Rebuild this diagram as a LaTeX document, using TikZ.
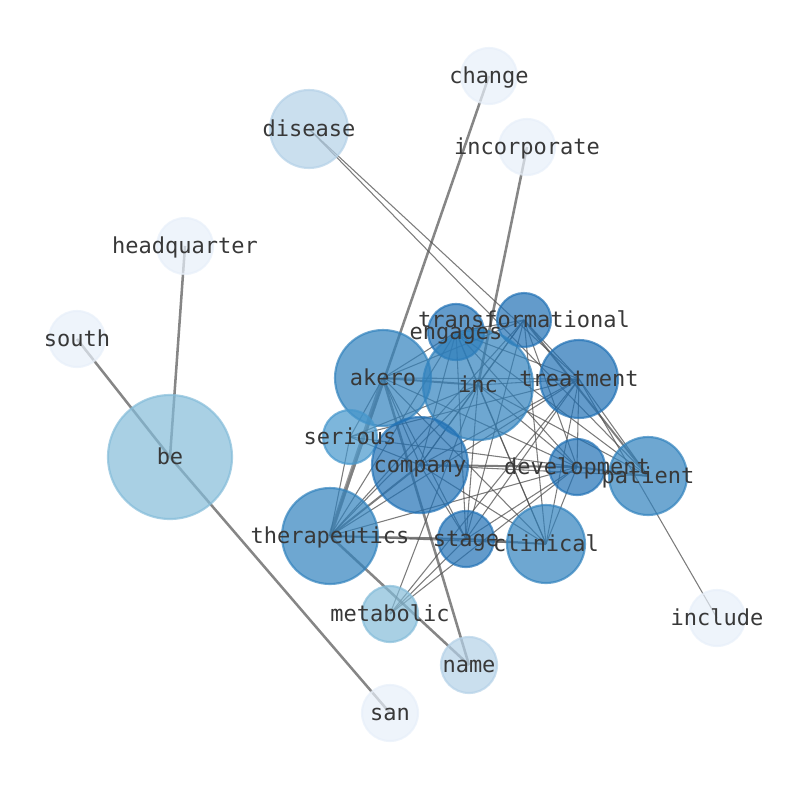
\documentclass[tikz,border=0pt]{standalone}
\usepackage{fontspec}
\newfontfamily\wordfont{DejaVu Sans Mono}
\pgfdeclarelayer{background}
\pgfdeclarelayer{foreground}
\pgfsetlayers{background,main,foreground}

\definecolor{blA}{RGB}{231,239,249}
\definecolor{blB}{RGB}{180,209,231}
\definecolor{blC}{RGB}{132,188,217}
\definecolor{blD}{RGB}{70,151,204}
\definecolor{blE}{RGB}{49,130,189}
\definecolor{blF}{RGB}{33,113,181}
\definecolor{edgegray}{RGB}{80,80,80}

\begin{document}
\begin{tikzpicture}[
			x=0.75pt, y=-0.75pt,
			blob/.style={circle, inner sep=0pt, line width=1.6pt,
			fill opacity=0.7, draw opacity=0.7},
			word/.style={font=\wordfont\fontsize{16.5}{18}\selectfont,
			text=black!78, inner sep=0pt, text height=0.72em, text depth=0.18em,
			yshift=-3pt},
			link/.style={draw=edgegray, line width=0.8pt, opacity=0.75},
			midlink/.style={link, line width=1.5pt},
			heavy/.style={draw=gray, line width=1.9pt, opacity=0.95}
			]
			\useasboundingbox (0,0) rectangle (794,790);
			% nodes: name / x / y / radius / colour
			\foreach \n/\x/\y/\r/\c in {
				change/489/76/28/blA, disease/309/129/39/blB,
				incorporate/527/147/28/blA, headquarter/185/246/28/blA,
				south/77/339/28/blA, transformational/524/320/27/blF,
				engages/456/332/28/blF, akero/383/378/48/blE,
				inc/478/385/55/blE, treatment/579/379/39/blF,
				serious/350/437/27/blD, be/170/457/62/blC,
				company/420/465/48/blF, development/577/467/28/blF,
				patient/648/476/39/blE, therapeutics/330/536/48/blE,
				stage/466/539/28/blF, clinical/546/544/39/blE,
				metabolic/390/614/28/blC, include/717/618/28/blA,
				name/469/665/28/blB, san/390/713/28/blA}{
				\node[blob, minimum size=1.5*\r pt, fill=\c, draw=\c] (\n) at (\x,\y) {};
				\begin{pgfonlayer}{foreground}
					\node[word] (\n-w) at (\n) {\n};
				\end{pgfonlayer}
			}
			\begin{pgfonlayer}{background}
				% outer words
				\foreach \a/\b in {change/therapeutics, incorporate/inc,
					headquarter/be, south/be, be/san, name/therapeutics, name/akero}
					\draw[heavy] (\a.center) -- (\b.center);
				\draw[heavy, line width=3pt, opacity=0.8] (akero.center) -- (therapeutics.center);
				% heavier pairs
				\foreach \a/\b in {akero/inc, transformational/patient, company/development,
					company/therapeutics, development/patient, therapeutics/stage, stage/clinical}
					\draw[midlink] (\a.center) -- (\b.center);
				% the rest
				\foreach \a/\b in {disease/patient, disease/treatment, include/treatment,
					akero/engages, akero/transformational, akero/treatment, akero/serious,
					akero/company, akero/stage, akero/clinical, akero/development,
					inc/engages, inc/transformational, inc/treatment, inc/company,
					inc/development, inc/stage, inc/clinical, inc/therapeutics,
					inc/serious, inc/patient, inc/metabolic,
					transformational/engages, transformational/treatment,
					transformational/company, transformational/development,
					transformational/stage, transformational/clinical,
					transformational/therapeutics,
					engages/treatment, engages/company, engages/development,
					engages/stage, engages/clinical, engages/therapeutics, engages/patient,
					treatment/company, treatment/development, treatment/stage,
					treatment/clinical, treatment/therapeutics, treatment/serious,
					treatment/patient,
					company/stage, company/clinical, company/serious, company/patient,
					development/stage, development/clinical, development/therapeutics,
					development/serious, development/metabolic,
					therapeutics/clinical, therapeutics/serious,
					stage/metabolic, treatment/metabolic}
					\draw[link] (\a.center) -- (\b.center);
			\end{pgfonlayer}
		\end{tikzpicture}
\end{document}
